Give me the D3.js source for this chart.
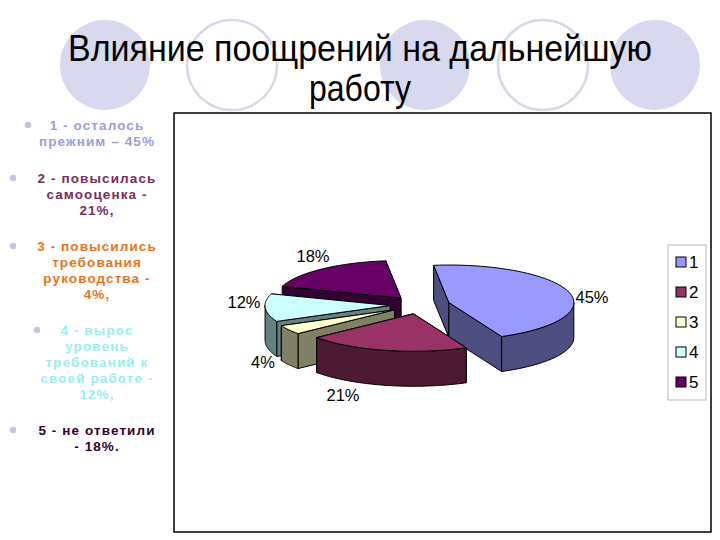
<!DOCTYPE html>
<html><head><meta charset="utf-8">
<script src="https://cdn.jsdelivr.net/npm/d3@7"></script>
<style>body{margin:0;background:#fff}svg{display:block}</style>
</head><body>
<svg id="c" width="720" height="540"></svg>
<script>
const categories = ["1","2","3","4","5"];
const values = [45, 21, 4, 12, 18];
const valueLabels = ["45%","21%","4%","12%","18%"];
const topColors = ["#9999FF","#993366","#FFFFCC","#CCFFFF","#660066"];
const sideColors = ["#4D4D80","#4D1A33","#808066","#668080","#330033"];
const bulletTexts = [
  ["1 - осталось","прежним – 45%"],
  ["2 - повысилась","самооценка -","21%,"],
  ["3 - повысились","требования","руководства -","4%,"],
  ["4 - вырос","уровень","требований к","своей работе -","12%,"],
  ["5 - не ответили","- 18%."]
];
const bulletColors = ["#9C9CE0","#7A2C5E","#E8731E","#99EEEE","#330033"];
const titleLines = ["Влияние поощрений на дальнейшую","работу"];

const svg = d3.select("#c");
[[105,true],[232,false],[425,true],[543,false],[655,true]].forEach(([x,f])=>{
  svg.append("ellipse").attr("cx",x).attr("cy",65).attr("rx",45).attr("ry",45)
    .attr("fill",f?"#D8D8EE":"#fff").attr("stroke",f?"none":"#D8D8E8").attr("stroke-width",2.5);
});
const titleW=[584,102];
svg.selectAll("text.title").data(titleLines).join("text")
  .attr("x",360).attr("y",(d,i)=>61+i*40).attr("text-anchor","middle")
  .attr("textLength",(d,i)=>titleW[i]).attr("lengthAdjust","spacingAndGlyphs")
  .attr("font-family","Liberation Sans, Arial").attr("font-size",36).attr("fill","#000").text(d=>d);

const blockY = [130,183,251,335,435];
const bulletX = [28,13,13,37,13];
bulletTexts.forEach((lines,i)=>{
  svg.append("circle").attr("cx",bulletX[i]).attr("cy",blockY[i]-5).attr("r",3.2).attr("fill","#C4C4E6");
  lines.forEach((t,j)=>{
    svg.append("text").attr("x",97).attr("y",blockY[i]+j*16).attr("text-anchor","middle")
      .attr("font-family","Liberation Sans, Arial").attr("font-weight","bold").attr("font-size",13.5)
      .attr("letter-spacing",1.1).attr("fill",bulletColors[i]).text(t);
  });
});

svg.append("rect").attr("x",174).attr("y",113).attr("width",537).attr("height",419)
  .attr("fill","#fff").attr("stroke","#000").attr("stroke-width",1.5);

const C = {x:420,y:305}, R=125, K=0.3, E=30, H=35;
const pie = d3.pie().sort(null).startAngle(-7*Math.PI/180).endAngle(353*Math.PI/180)(values);
const P = (cx,cy,a,r,h)=>[cx+r*Math.sin(a), cy-r*K*Math.cos(a)+(h||0)];
const slices = pie.map((p,i)=>{
  const m=(p.startAngle+p.endAngle)/2;
  const [cx,cy]=P(C.x,C.y,m,E,0);
  return {i,p,cx,cy,m};
});
const order = slices.slice().sort((a,b)=>(-Math.cos(a.m))-(-Math.cos(b.m)));
const g = svg.append("g").attr("stroke","#000").attr("stroke-width",1).attr("stroke-linejoin","round");
const arcPts=(s,h,a0,a1)=>{const n=60,pts=[];for(let k=0;k<=n;k++){const a=a0+(a1-a0)*k/n;pts.push(P(s.cx,s.cy,a,R,h));}return pts;};
const line = d3.line();
order.forEach(s=>{
  const a0=s.p.startAngle,a1=s.p.endAngle;
  const walls=[a0,a1].map(a=>{const e=P(s.cx,s.cy,a,R,0);return {a,pts:[[s.cx,s.cy],e,[e[0],e[1]+H],[s.cx,s.cy+H]]};})
    .sort((u,v)=>(-Math.cos(u.a))-(-Math.cos(v.a)));
  walls.forEach(w=>g.append("path").attr("d",line(w.pts)+"Z").attr("fill",sideColors[s.i]));
  const n=90;
  let seg=[];const segs=[];
  for(let k=0;k<=n;k++){const a=a0+(a1-a0)*k/n;if(Math.cos(a)<=0.02){seg.push(a);}else if(seg.length){segs.push(seg);seg=[];}}
  if(seg.length)segs.push(seg);
  segs.forEach(sg=>{
    if(sg.length<2)return;
    const top=sg.map(a=>P(s.cx,s.cy,a,R,0)), bot=sg.slice().reverse().map(a=>P(s.cx,s.cy,a,R,H));
    g.append("path").attr("d",line(top.concat(bot))+"Z").attr("fill",sideColors[s.i]);
  });
  g.append("path").attr("d",line([[s.cx,s.cy]].concat(arcPts(s,0,a0,a1)))+"Z").attr("fill",topColors[s.i]);
});

const labelPos = [[592,297],[343,395],[263,362],[244,302],[313,256]];
svg.selectAll("text.vl").data(valueLabels).join("text")
  .attr("x",(d,i)=>labelPos[i][0]).attr("y",(d,i)=>labelPos[i][1]+6).attr("text-anchor","middle")
  .attr("font-family","Liberation Sans, Arial").attr("font-size",16.5).text(d=>d);

svg.append("rect").attr("x",668).attr("y",245).attr("width",38).attr("height",155)
  .attr("fill","#fff").attr("stroke","#BBB").attr("stroke-width",1);
const ly = d3.scalePoint().domain(categories).range([262,382]);
categories.forEach((c,i)=>{
  svg.append("rect").attr("x",676).attr("y",ly(c)-5).attr("width",10).attr("height",10)
    .attr("fill",topColors[i]).attr("stroke","#000");
  svg.append("text").attr("x",689).attr("y",ly(c)+6).attr("font-family","Liberation Sans, Arial")
    .attr("font-size",17).text(c);
});
</script>
</body></html>
